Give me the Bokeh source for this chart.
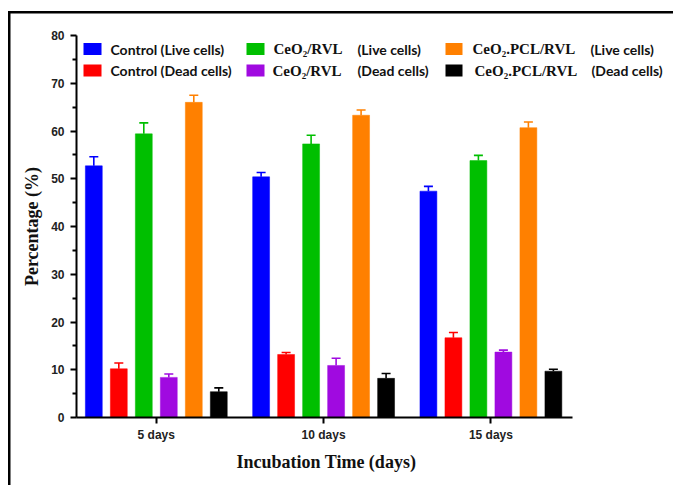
from bokeh.plotting import figure
from bokeh.models import (ColumnDataSource, Range1d, FixedTicker, Whisker, TeeHead,
                          Label, BoxAnnotation, Title)
from bokeh.embed import file_html
from bokeh.resources import INLINE

# ---- data -------------------------------------------------------------
days = ["5 days", "10 days", "15 days"]

control_live = [52.7, 50.4, 47.4]
control_live_err = [1.9, 0.9, 1.0]
control_dead = [10.2, 13.2, 16.7]
control_dead_err = [1.2, 0.4, 1.1]
ceo2_live = [59.4, 57.3, 53.8]
ceo2_live_err = [2.3, 1.8, 1.1]
ceo2_dead = [8.4, 10.9, 13.7]
ceo2_dead_err = [0.7, 1.5, 0.4]
pcl_live = [66.0, 63.3, 60.7]
pcl_live_err = [1.5, 1.1, 1.2]
pcl_dead = [5.4, 8.2, 9.7]
pcl_dead_err = [0.8, 1.0, 0.4]

y_ticks = [0, 10, 20, 30, 40, 50, 60, 70, 80]

series = [
    (control_live, control_live_err, "#0000ff"),
    (control_dead, control_dead_err, "#ff0000"),
    (ceo2_live, ceo2_live_err, "#00bf00"),
    (ceo2_dead, ceo2_dead_err, "#a00ae0"),
    (pcl_live, pcl_live_err, "#ff8000"),
    (pcl_dead, pcl_dead_err, "#000000"),
]

W, H = 673, 485
FL, FT, FB = 76, 35, 417          # frame edges in canvas pixels
GROUP_PX = 167.3                  # pixels between group centres
X_LO, X_HI = -0.477, 2.488        # extent of the drawn x axis

# the frame runs to the right edge so the legend has room; the x axis
# line itself is limited with bounds
x_end = X_LO + (W - FL) / GROUP_PX

p = figure(width=W, height=H, output_backend="svg", toolbar_location=None,
           x_range=Range1d(X_LO, x_end), y_range=Range1d(0, 80),
           min_border_left=FL, min_border_right=0,
           min_border_top=FT, min_border_bottom=H - FB)
p.outline_line_color = None
p.xgrid.visible = False
p.ygrid.visible = False
p.background_fill_color = "white"
p.border_fill_color = None
# outer page frame: a line down the left and along the top
p.styles = {
    "background": ("linear-gradient(#000,#000) 8px 11px / 2.5px calc(100% - 11px) no-repeat, "
                   "linear-gradient(#000,#000) 8px 11px / calc(100% - 8px) 2.5px no-repeat, "
                   "#ffffff"),
}

slot = 0.1494
bar_w = 0.101
group_x = list(range(len(days)))

for i, (vals, errs, color) in enumerate(series):
    off = (i - 2.5) * slot
    xs = [g + off for g in group_x]
    src = ColumnDataSource(dict(x=xs, top=vals,
                                upper=[v + e for v, e in zip(vals, errs)]))
    p.vbar(x="x", top="top", bottom=0, width=bar_w, source=src,
           fill_color=color, line_color=color, line_width=0.5)
    wk = Whisker(base="x", lower="top", upper="upper", source=src,
                 line_color=color, line_width=1.6,
                 lower_head=None,
                 upper_head=TeeHead(size=9, line_color=color, line_width=1.6))
    p.add_layout(wk)

# ---- axes -------------------------------------------------------------
tick_font = "Liberation Sans"
serif = "Liberation Serif"
for ax in (p.xaxis[0], p.yaxis[0]):
    ax.axis_line_width = 2
    ax.axis_line_color = "black"
    ax.major_tick_line_width = 2
    ax.major_tick_line_color = "black"
    ax.minor_tick_line_width = 2
    ax.minor_tick_line_color = "black"
    ax.major_tick_in = 0
    ax.minor_tick_in = 0
    ax.major_label_text_font = tick_font
    ax.major_label_text_font_style = "bold"
    ax.major_label_text_font_size = "12px"
    ax.major_label_text_color = "#222222"
    ax.axis_label_text_font = serif
    ax.axis_label_text_font_style = "bold"
    ax.axis_label_text_font_size = "18px"
    ax.axis_label_text_color = "#111111"

p.yaxis.ticker = FixedTicker(ticks=y_ticks, minor_ticks=[t + 5 for t in y_ticks[:-1]])
p.yaxis.major_tick_out = 6
p.yaxis.minor_tick_out = 4
p.yaxis.major_label_standoff = 6
p.yaxis.axis_label = "Percentage (%)"
p.yaxis.axis_label_standoff = 6

p.xaxis.ticker = FixedTicker(ticks=group_x, minor_ticks=[])
p.xaxis.major_label_overrides = {g: d for g, d in zip(group_x, days)}
p.xaxis.bounds = (X_LO, X_HI)
p.xaxis.major_tick_out = 6
p.xaxis.major_label_standoff = 4

# x axis title, placed under the bounded axis rather than the whole frame
p.add_layout(Title(text="Incubation Time (days)", align="left", offset=160,
                   text_font=serif, text_font_style="bold", text_font_size="18px",
                   text_color="#111111", standoff=10), "below")

CANVAS = dict(left_units="canvas", right_units="canvas",
              top_units="canvas", bottom_units="canvas")

# ---- legend (canvas px, y from top) -------------------------------------
sans = "Lato"
rows_y = [48.5, 70.0]   # text centres
legend_cols = [
    # swatch left, swatch right, row 1 texts, row 2 texts
    (83, 101, [("Control (Live cells)", 110, sans)], [("Control (Dead cells)", 110, sans)]),
    (246, 264, [("CeO\u2082/RVL", 273, serif), ("(Live cells)", 357, sans)],
               [("CeO\u2082/RVL", 272, serif), ("(Dead cells)", 357, sans)]),
    (445, 462, [("CeO\u2082.PCL/RVL", 472, serif), ("(Live cells)", 590, sans)],
               [("CeO\u2082.PCL/RVL", 474, serif), ("(Dead cells)", 591, sans)]),
]
swatch_colors = [[series[0][2], series[1][2]],
                 [series[2][2], series[3][2]],
                 [series[4][2], series[5][2]]]

for c, (sl, sr, row1, row2) in enumerate(legend_cols):
    for r, items in enumerate((row1, row2)):
        cy = rows_y[r]
        p.add_layout(BoxAnnotation(left=sl, right=sr, top=cy - 6, bottom=cy + 6,
                                   fill_color=swatch_colors[c][r], fill_alpha=1,
                                   line_color=None, **CANVAS))
        for text, tx, font in items:
            p.add_layout(Label(x=tx, y=cy, x_units="canvas", y_units="canvas",
                               text=text, text_font=font, text_font_style="bold",
                               text_font_size="15px" if font == serif else "14px",
                               text_baseline="middle", text_align="left",
                               text_color="#111111"))

open("out.html", "w").write(file_html(p, INLINE))
